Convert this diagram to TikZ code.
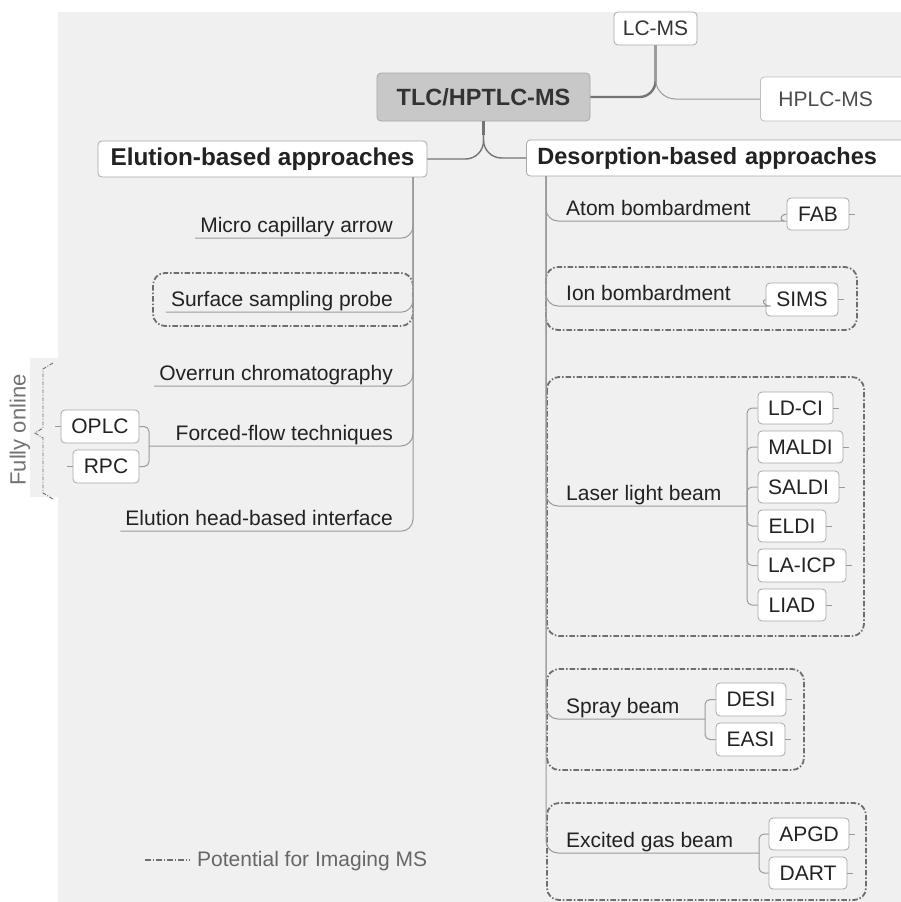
\documentclass[tikz,border=0pt]{standalone}
\usepackage{fontspec}
\setmainfont{Liberation Sans}
\usetikzlibrary{calc}
\definecolor{panel}{HTML}{F0F0F0}
\definecolor{boxline}{HTML}{A8A8A8}
\definecolor{txt}{HTML}{222222}
\definecolor{connc}{HTML}{9A9A9A}
\definecolor{rootc}{HTML}{747474}
\definecolor{rootfill}{HTML}{C8C8C8}
\definecolor{imgc}{HTML}{6E6E6E}
\newcommand\regf{\fontsize{21}{25}\selectfont}
\newcommand\boldf{\fontsize{23.5}{28}\selectfont\bfseries}
\tikzset{
  box/.style={draw=boxline, fill=white, rounded corners=4pt, line width=0.8pt,
    inner sep=0pt, font=\regf, text=txt},
  hbox/.style={box, font=\boldf, minimum height=36pt},
  lbl/.style={inner xsep=5pt, inner ysep=6pt, text depth=0pt, font=\regf, text=txt},
  conn/.style={draw=connc, line width=1pt, rounded corners=12pt},
  bconn/.style={draw=connc, line width=1pt, rounded corners=5pt},
  stub/.style={draw=connc, line width=0.8pt},
  thickconn/.style={draw=rootc, line width=2.4pt, rounded corners=16pt},
  midconn/.style={draw=rootc, line width=1.4pt, rounded corners=18pt},
  imaging/.style={draw=imgc, line width=1.8pt, rounded corners=12pt,
    dash pattern=on 5.5pt off 2pt on 1.5pt off 2pt},
  brace/.style={draw=imgc, line width=0.9pt,
    dash pattern=on 4pt off 1.5pt on 1pt off 1.5pt}
}
\begin{document}
\begin{tikzpicture}[x=1pt,y=1pt]
\useasboundingbox (0,0) rectangle (901,-902);
\clip (0,0) rectangle (901,-902);
\fill[white] (0,0) rectangle (901,-902);
\fill[panel] (58,-12) rectangle (901,-902);
\fill[panel] (30,-358) rectangle (58,-497);

% imaging boxes
\draw[imaging] (153,-273) rectangle (413,-326);
\draw[imaging] (546,-267) rectangle (857,-330);
\draw[imaging] (547,-377) rectangle (864,-636);
\draw[imaging] (547,-669) rectangle (804,-770);
\draw[imaging] (547,-803) rectangle (866,-900);

% top nodes
\node[box, fill=rootfill, font=\boldf, text=black!80, minimum width=213pt, minimum height=48pt] (root) at (483.5,-97) {TLC/HPTLC-MS};
\node[box, text=black!80, minimum width=83pt, minimum height=33pt] (lcms) at (655.5,-28.5) {LC-MS};
\node[box, draw=black!25, text=black!70, anchor=west, minimum height=44pt, text width=122pt, inner xsep=18pt] (hplc) at (760,-99) {HPLC-MS};
\node[hbox, font=\fontsize{24.3}{28}\selectfont\bfseries, minimum width=329pt] (elu) at (262.5,-159) {Elution-based approaches};
\node[hbox, anchor=west, text width=380pt, align=left, inner xsep=11pt] (des) at (526,-158) {Desorption-based approaches};

\draw[thickconn] (root.east) -| (lcms.south);
\draw[conn, rounded corners=20pt] (lcms.south) |- (hplc.west);
\draw[thickconn] (root.south) -- ++(0,-14);
\draw[midconn] (root.south) |- (elu.east);
\draw[midconn] (root.south) |- (des.west);

% elution branch
\coordinate (etop) at (413,-177);
\node[lbl, anchor=base east] (mca) at (398,-232) {Micro capillary arrow};
\node[lbl, anchor=base east] (ssp) at (398,-306) {Surface sampling probe};
\node[lbl, anchor=base east] (ovr) at (398,-380) {Overrun chromatography};
\node[lbl, anchor=base east] (ffl) at (398,-440) {Forced-flow techniques};
\node[lbl, anchor=base east] (ehb) at (398,-525) {Elution head-based interface};
\draw[conn] (etop) |- (mca.south west);
\draw[conn] (etop) |- (ssp.south west);
\draw[conn] (etop) |- (ovr.south west);
\draw[conn] (etop) |- (ehb.south west);
\coordinate (ffp) at (149,-446);
\draw[conn] (etop) |- (ffp);
\node[box, minimum width=78pt, minimum height=33pt] (oplc) at (100,-426.5) {OPLC};
\node[box, minimum width=66pt, minimum height=33pt] (rpc) at (106,-466.5) {RPC};
\draw[bconn] (ffp) |- (oplc.east);
\draw[bconn] (ffp) |- (rpc.east);
\draw[stub] (oplc.west) -- ++(-6,0);
\draw[stub] (rpc.west) -- ++(-6,0);

% fully online brace
\node[rotate=90, font=\fontsize{22}{26}\selectfont, text=black!55, inner sep=0pt] (fo) at (20,-430) {Fully online};
\draw[brace] (53,-363) -- (43,-369) -- (43,-428) -- (35,-433) -- (43,-438) -- (43,-493) -- (53,-499);

% desorption branch
\coordinate (dtop) at (546,-176);
\node[lbl, anchor=base west] (atom) at (561,-215) {Atom bombardment};
\node[box, minimum width=62pt, minimum height=32pt] (fab) at (818,-214) {FAB};
\draw[conn] (dtop) |- ($(fab.west)+(-14,-7)$) to[out=0,in=180] (fab.west);
\draw[stub] (fab.east) -- ++(6,0);

\node[lbl, anchor=base west] (ion) at (561,-300) {Ion bombardment};
\node[box, minimum width=72pt, minimum height=33pt] (sims) at (802,-299.5) {SIMS};
\draw[conn] (dtop) |- ($(sims.west)+(-7,-6.5)$) to[out=0,in=180] (sims.west);
\draw[stub] (sims.east) -- ++(6,0);

\node[lbl, anchor=base west] (laser) at (561,-500) {Laser light beam};
\coordinate (lbp) at (747,-506);
\draw[conn] (dtop) |- (lbp);
\node[box, minimum width=75pt, minimum height=32pt] (ldci) at (795.5,-408) {LD-CI};
\node[box, minimum width=85pt, minimum height=32pt] (maldi) at (800.5,-447) {MALDI};
\node[box, minimum width=81pt, minimum height=32pt] (saldi) at (798.5,-487) {SALDI};
\node[box, minimum width=68pt, minimum height=32pt] (eldi) at (792,-526) {ELDI};
\node[box, minimum width=88pt, minimum height=33pt] (laicp) at (802,-565.5) {LA-ICP};
\node[box, minimum width=68pt, minimum height=32pt] (liad) at (792,-605) {LIAD};
\foreach \n in {ldci,maldi,saldi,eldi,laicp,liad}{
  \draw[bconn] (lbp) |- (\n.west);
  \draw[stub] (\n.east) -- ++(6,0);
}

\node[lbl, anchor=base west] (spray) at (561,-713) {Spray beam};
\coordinate (sbp) at (705,-719);
\draw[conn] (dtop) |- (sbp);
\node[box, minimum width=70pt, minimum height=33pt] (desi) at (751,-699.5) {DESI};
\node[box, minimum width=69pt, minimum height=33pt] (easi) at (750.5,-739.5) {EASI};
\foreach \n in {desi,easi}{
  \draw[bconn] (sbp) |- (\n.west);
  \draw[stub] (\n.east) -- ++(6,0);
}

\node[lbl, anchor=base west] (exc) at (561,-847) {Excited gas beam};
\coordinate (ebp) at (759,-853);
\draw[conn] (dtop) |- (ebp);
\node[box, minimum width=80pt, minimum height=32pt] (apgd) at (809,-834) {APGD};
\node[box, minimum width=78pt, minimum height=32pt] (dart) at (808,-873) {DART};
\foreach \n in {apgd,dart}{
  \draw[bconn] (ebp) |- (\n.west);
  \draw[stub] (\n.east) -- ++(6,0);
}

% legend
\coordinate (lg1) at (145,-860);
\coordinate (lg2) at (190,-860);
\draw[imaging, line width=1.4pt] (lg1) -- (lg2);
\node[anchor=base west, inner sep=0pt, font=\regf, text=black!60] (legend) at (197,-866) {Potential for Imaging MS};
\end{tikzpicture}
\end{document}
